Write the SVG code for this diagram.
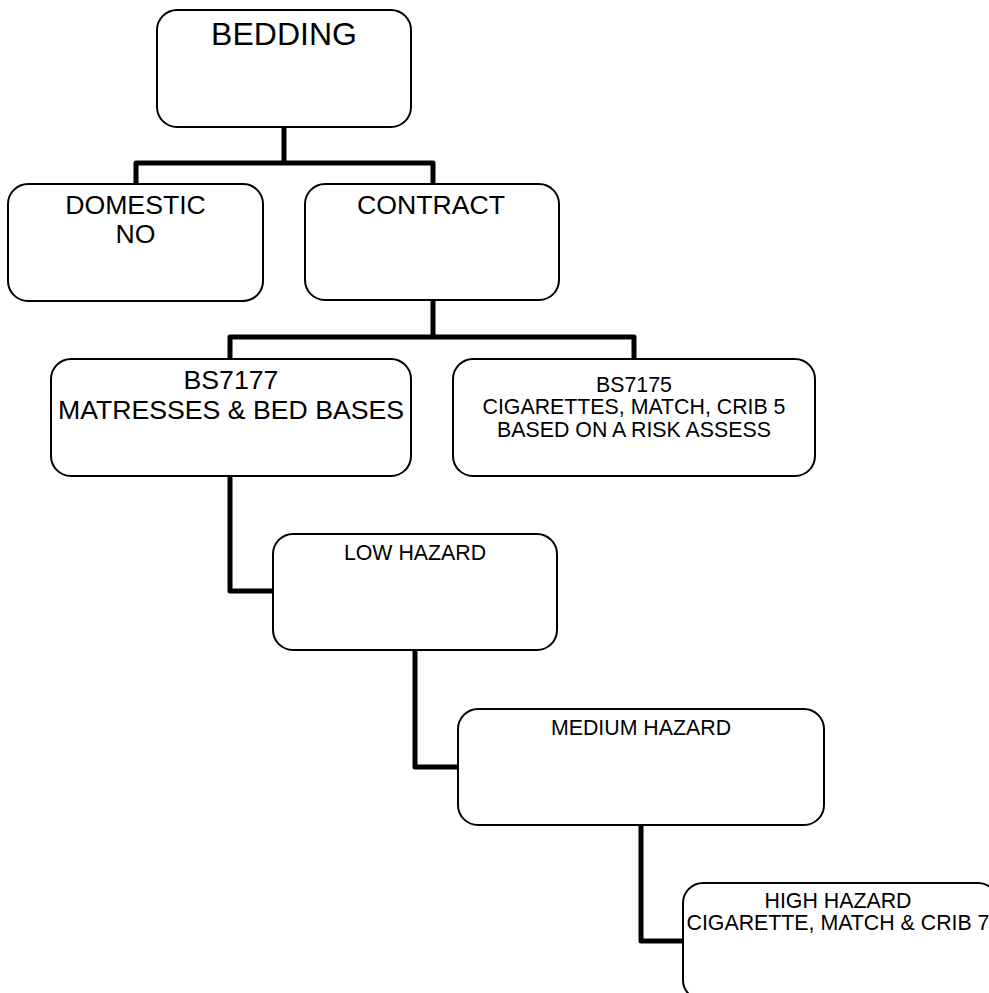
<svg xmlns="http://www.w3.org/2000/svg" width="989" height="993" viewBox="0 0 989 993">
<style>
.box{fill:#fff;stroke:#000;stroke-width:2}
.t{font-family:"Liberation Sans",Arial,sans-serif;fill:#000;text-anchor:middle}
.xl{font-size:32px}
.l{font-size:26.67px}
.s{font-size:21.33px}
.con{fill:none;stroke:#000;stroke-width:5;stroke-linejoin:round}
</style>
<rect width="989" height="993" fill="#fff"/>
<g id="connectors">
<path class="con" d="M136,184 V163 H433 V184 M284,127 V163"/>
<path class="con" d="M230,359 V337 H634 V359 M433,300 V337"/>
<path class="con" d="M230,476 V591 H273"/>
<path class="con" d="M415,650 V767 H458"/>
<path class="con" d="M641,825 V941 H683"/>
</g>
<g id="bedding">
<rect class="box" x="157" y="10" width="254" height="117" rx="20"/>
<text class="t xl" x="284" y="45">BEDDING</text>
</g>
<g id="domestic">
<rect class="box" x="8" y="184" width="255" height="117" rx="20"/>
<text class="t l" x="135.5" y="214">DOMESTIC</text>
<text class="t l" x="135.5" y="243">NO</text>
</g>
<g id="contract">
<rect class="box" x="305" y="184" width="254" height="116" rx="20"/>
<text class="t l" x="431" y="214">CONTRACT</text>
</g>
<g id="bs7177">
<rect class="box" x="51" y="359" width="360" height="117" rx="20"/>
<text class="t l" x="231" y="389">BS7177</text>
<text class="t l" x="231" y="419">MATRESSES &amp; BED BASES</text>
</g>
<g id="bs7175">
<rect class="box" x="453" y="359" width="362" height="117" rx="20"/>
<text class="t s" x="634" y="392">BS7175</text>
<text class="t s" x="634" y="414">CIGARETTES, MATCH, CRIB 5</text>
<text class="t s" x="634" y="437">BASED ON A RISK ASSESS</text>
</g>
<g id="low">
<rect class="box" x="273" y="534" width="284" height="116" rx="20"/>
<text class="t s" x="415" y="560">LOW HAZARD</text>
</g>
<g id="medium">
<rect class="box" x="458" y="709" width="366" height="116" rx="20"/>
<text class="t s" x="641" y="735">MEDIUM HAZARD</text>
</g>
<g id="high">
<rect class="box" x="683" y="883" width="315" height="117" rx="20"/>
<text class="t s" x="838" y="908">HIGH HAZARD</text>
<text class="t s" x="838" y="930">CIGARETTE, MATCH &amp; CRIB 7</text>
</g>
</svg>
